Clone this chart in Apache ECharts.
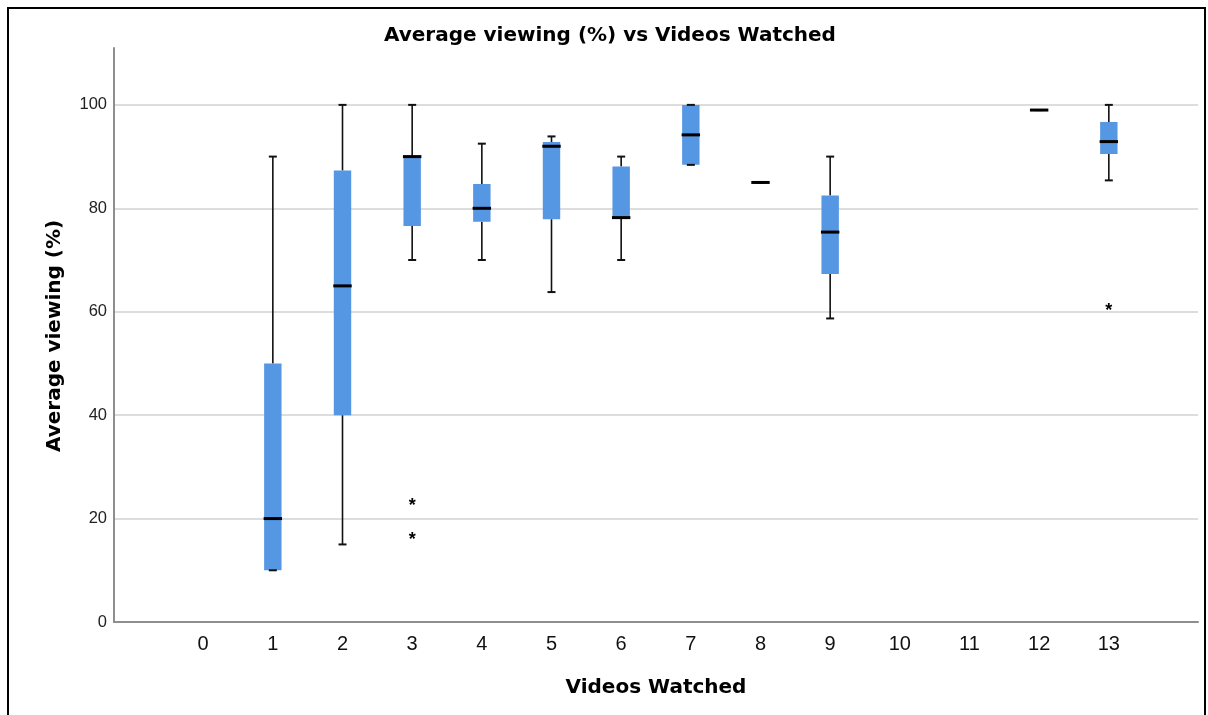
<!DOCTYPE html>
<html>
<head>
<meta charset="utf-8">
<script src="https://cdn.jsdelivr.net/npm/echarts@6/dist/echarts.min.js"></script>
<style>
html,body{margin:0;padding:0;background:#fff;}
#chart{width:1208px;height:715px;}
</style>
</head>
<body>
<div id="chart"></div>
<script>
// ---- data ----
const categories = [0, 1, 2, 3, 4, 5, 6, 7, 8, 9, 10, 11, 12, 13];
const boxMin    = [null, 10, 15,   70,   70,   63.8, 70,   88.4, 85, 58.7, null, null, 99, 85.4];
const boxQ1     = [null, 10, 40,   76.6, 77.4, 77.9, 78.2, 88.4, 85, 67.3, null, null, 99, 90.5];
const boxMedian = [null, 20, 65,   90,   80,   92,   78.2, 94.2, 85, 75.4, null, null, 99, 92.9];
const boxQ3     = [null, 50, 87.3, 90,   84.7, 92.8, 88.1, 100,  85, 82.5, null, null, 99, 96.7];
const boxMax    = [null, 90, 100,  100,  92.5, 93.9, 90,   100,  85, 90,   null, null, 99, 100];
const outlierX  = [3, 3, 13];
const outlierY  = [23.1, 16.5, 60.7];
const yTicks    = [0, 20, 40, 60, 80, 100];

const titleText = 'Average viewing (%) vs Videos Watched';
const xTitle = 'Videos Watched';
const yTitle = 'Average viewing (%)';

const boxData = [];
categories.forEach((c, i) => {
  if (boxMedian[i] != null) {
    boxData.push([c, boxMin[i], boxQ1[i], boxMedian[i], boxQ3[i], boxMax[i]]);
  }
});
const outlierData = outlierX.map((x, i) => [x, outlierY[i]]);

const chart = echarts.init(document.getElementById('chart'), null, {renderer: 'canvas'});

function renderBox(params, api) {
  const x = api.value(0);
  const pMin = api.coord([x, api.value(1)]);
  const pQ1 = api.coord([x, api.value(2)]);
  const pMed = api.coord([x, api.value(3)]);
  const pQ3 = api.coord([x, api.value(4)]);
  const pMax = api.coord([x, api.value(5)]);
  const bw = api.size([0.25, 0])[0];
  const cx = pMed[0];
  const capW = 8;
  const children = [];
  const whiskerStyle = {stroke: '#111', lineWidth: 1.6};
  if (pMax[1] < pQ3[1]) {
    children.push({type: 'line', shape: {x1: cx, y1: pMax[1], x2: cx, y2: pQ3[1]}, style: whiskerStyle});
  }
  if (pMin[1] > pQ1[1]) {
    children.push({type: 'line', shape: {x1: cx, y1: pQ1[1], x2: cx, y2: pMin[1]}, style: whiskerStyle});
  }
  if (pQ1[1] - pQ3[1] > 0.5) {
    children.push({type: 'rect', shape: {x: cx - bw / 2, y: pQ3[1], width: bw, height: pQ1[1] - pQ3[1]},
      style: {fill: '#5597e3', stroke: null}});
  }
  children.push({type: 'line', shape: {x1: cx - capW / 2, y1: pMax[1], x2: cx + capW / 2, y2: pMax[1]},
    style: {stroke: '#111', lineWidth: 2}});
  children.push({type: 'line', shape: {x1: cx - capW / 2, y1: pMin[1], x2: cx + capW / 2, y2: pMin[1]},
    style: {stroke: '#111', lineWidth: 2}});
  children.push({type: 'line', shape: {x1: cx - bw / 2 - 0.5, y1: pMed[1], x2: cx + bw / 2 + 0.5, y2: pMed[1]},
    style: {stroke: '#000', lineWidth: 3}});
  return {type: 'group', children: children};
}

function renderStar(params, api) {
  const p = api.coord([api.value(0), api.value(1)]);
  return {
    type: 'text',
    x: p[0], y: p[1] + 3,
    style: {text: '*', fill: '#000', font: 'bold 18px "Liberation Sans"', align: 'center', verticalAlign: 'middle'}
  };
}

const option = {
  backgroundColor: '#ffffff',
  animation: false,
  title: {
    text: titleText,
    left: 379, top: 21,
    textStyle: {fontFamily: 'DejaVu Sans', fontWeight: 'bold', fontSize: 20, color: '#000'}
  },
  grid: {left: 114, right: 10, top: 48, bottom: 93, containLabel: false},
  xAxis: {
    type: 'value', min: -1.28, max: 14.28,
    axisLine: {show: true, onZero: false, lineStyle: {color: '#8e8e8e', width: 2}},
    axisTick: {show: false, customValues: categories},
    axisLabel: {customValues: categories, margin: 12, fontFamily: 'Liberation Sans', fontSize: 20, color: '#111'},
    splitLine: {show: false}
  },
  yAxis: {
    type: 'value', min: 0, max: 111,
    axisLine: {show: true, onZero: false, lineStyle: {color: '#8e8e8e', width: 2}},
    axisTick: {show: false, customValues: yTicks},
    axisLabel: {customValues: yTicks, margin: 7, fontFamily: 'Liberation Sans', fontSize: 16.5, color: '#222'},
    splitLine: {show: true, lineStyle: {color: '#d2d2d2', width: 1.5}}
  },
  graphic: [
    {type: 'rect', x: 8, y: 8, shape: {x: 0, y: 0, width: 1197, height: 800},
      style: {fill: null, stroke: '#000', lineWidth: 2}, silent: true, z: 100},
    {type: 'text', x: 55, y: 336, rotation: Math.PI / 2,
      style: {text: yTitle, font: 'bold 20px "DejaVu Sans"', fill: '#000', align: 'center', verticalAlign: 'middle'}},
    {type: 'text', x: 656, y: 688,
      style: {text: xTitle, font: 'bold 20px "DejaVu Sans"', fill: '#000', align: 'center', verticalAlign: 'middle'}}
  ],
  series: [
    {type: 'custom', name: 'box', renderItem: renderBox, data: boxData, encode: {x: 0, y: [1, 2, 3, 4, 5]}, z: 5},
    {type: 'custom', name: 'outliers', renderItem: renderStar, data: outlierData, encode: {x: 0, y: 1}, z: 6}
  ]
};
chart.setOption(option);
</script>
</body>
</html>
